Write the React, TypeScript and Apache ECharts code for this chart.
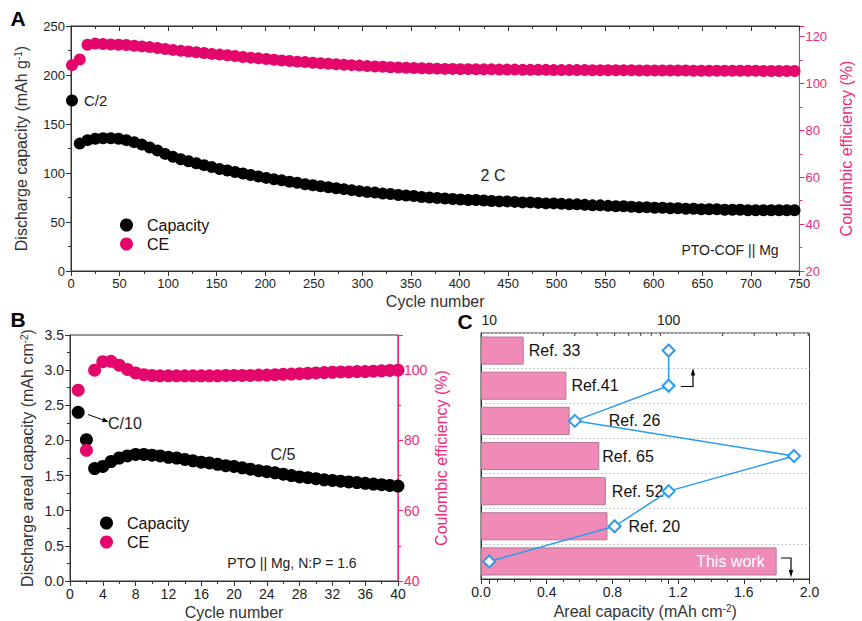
import React, { useEffect, useRef } from 'react';
import * as echarts from 'echarts';

// ---------- Panel A: PTO-COF || Mg, sampled every 8 cycles starting at cycle 1 ----------
const aCapacity = [
  174, 130, 133.5, 135, 135.5, 135.5, 135, 133.5, 131.5, 129,
  126, 123, 119.5, 116.5, 114, 112, 110, 108, 106, 104,
  102.5, 101, 99.5, 98, 96.5, 95, 93.5, 92.5, 91, 90,
  88.5, 87.5, 86.5, 85.5, 84.5, 83.5, 82.5, 81.5, 80.5, 80,
  79, 78.5, 77.5, 77, 76.5, 75.5, 75, 74.5, 74, 73.5,
  73, 72.5, 72.5, 72, 71.5, 71, 71, 70.5, 70, 70,
  69.5, 69, 69, 68.5, 68, 68, 67.5, 67, 67, 66.5,
  66, 66, 65.5, 65, 65, 64.5, 64.5, 64, 64, 63.5,
  63.5, 63, 63, 63, 62.5, 62.5, 62.5, 62, 62, 62,
  62, 62, 62, 62,
];
const aCE = [
  107.8, 110.2, 116.5, 117, 116.8, 116.6, 116.5, 116.4, 116.1, 115.8,
  115.5, 115.1, 114.7, 114.3, 113.9, 113.6, 113.3, 113, 112.6, 112.3,
  112, 111.7, 111.3, 111, 110.7, 110.4, 110.1, 109.8, 109.6, 109.3,
  109.1, 108.8, 108.6, 108.4, 108.2, 108, 107.8, 107.6, 107.4, 107.2,
  107.1, 106.9, 106.8, 106.7, 106.6, 106.5, 106.4, 106.3, 106.2, 106.2,
  106.1, 106.1, 106, 106, 106, 105.9, 105.9, 105.9, 105.8, 105.8,
  105.8, 105.8, 105.7, 105.7, 105.7, 105.7, 105.7, 105.6, 105.6, 105.6,
  105.6, 105.6, 105.6, 105.5, 105.5, 105.5, 105.5, 105.5, 105.5, 105.5,
  105.4, 105.4, 105.4, 105.4, 105.4, 105.4, 105.4, 105.4, 105.4, 105.3,
  105.3, 105.3, 105.3, 105.3,
];
const aCycleStart = 1;
const aCycleStep = 8;

// ---------- Panel B: PTO || Mg, cycles 1..40 ----------
const bCapacity = [
  2.4, 2.01, 1.6, 1.63, 1.7, 1.75, 1.78, 1.8, 1.8, 1.79,
  1.78, 1.76, 1.75, 1.73, 1.71, 1.69, 1.68, 1.66, 1.64, 1.63,
  1.61, 1.59, 1.57, 1.555, 1.54, 1.52, 1.5, 1.48, 1.47, 1.455,
  1.44, 1.43, 1.42, 1.41, 1.4, 1.39, 1.38, 1.37, 1.36, 1.35,
];
const bCE = [
  94.3, 77.2, 100, 102.4, 102.5, 101.4, 100.2, 99.2, 98.7, 98.5,
  98.4, 98.4, 98.4, 98.4, 98.4, 98.4, 98.4, 98.4, 98.5, 98.5,
  98.5, 98.5, 98.6, 98.6, 98.7, 98.8, 98.9, 99, 99.1, 99.2,
  99.3, 99.4, 99.5, 99.5, 99.6, 99.6, 99.7, 99.8, 99.9, 100,
];

// ---------- Panel C: comparison (bottom -> top) ----------
const cRefs = ['This work', 'Ref. 20', 'Ref. 52', 'Ref. 65', 'Ref. 26', 'Ref.41', 'Ref. 33'];
const cArealCapacity = [1.8, 0.77, 0.76, 0.72, 0.54, 0.52, 0.26];
const cTopValues = [10, 50, 100, 500, 30, 100, 100];
const cLogMinorTicks = [20, 30, 40, 50, 60, 70, 80, 90, 200, 300, 400, 500, 600];
const cLabelGap = [12, 21, 6, 3, 39, 5, 5];

const FONT = '"Liberation Sans", Arial, Helvetica, sans-serif';
const INK = '#222';
const PINK = '#e4076b';
const PINK_AXIS = '#f0287c';
const BAR = '#f08ab6';
const BAR_BORDER = '#b67a96';
const BLUE = '#2b9cf0';

function axisBase(color: string, labelSize: number) {
  return {
    axisLine: { show: true, onZero: false, lineStyle: { color, width: 1 } },
    axisTick: { show: true, length: 5, lineStyle: { color } },
    minorTick: { show: true, splitNumber: 2, length: 3, lineStyle: { color } },
    axisLabel: { color, fontSize: labelSize, margin: 5, fontFamily: FONT },
    splitLine: { show: false },
    nameTextStyle: {
      color,
      fontSize: 16,
      fontFamily: FONT,
      rich: { sup: { fontSize: 10, color, fontFamily: FONT, verticalAlign: 'top', lineHeight: 10 } },
    },
  };
}

function txt(text: string, x: number, y: number, size: number, align = 'left', color = INK, weight = 'normal') {
  return {
    type: 'text',
    x,
    y,
    silent: true,
    style: {
      text,
      fill: color,
      fontSize: size,
      fontFamily: FONT,
      fontWeight: weight,
      align,
      textAlign: align,
      verticalAlign: 'middle',
      textVerticalAlign: 'middle',
    },
  };
}

export default function App() {
  const ref = useRef<HTMLDivElement>(null);

  useEffect(() => {
    document.body.style.margin = '0';
    if (!ref.current) return;
    const chart = echarts.init(ref.current, undefined, { renderer: 'svg' });

    const aCap = aCapacity.map((v, i) => [aCycleStart + aCycleStep * i, v]);
    const aEff = aCE.map((v, i) => [aCycleStart + aCycleStep * i, v]);
    const bCap = bCapacity.map((v, i) => [i + 1, v]);
    const bEff = bCE.map((v, i) => [i + 1, v]);

    const barData = cArealCapacity.map((v, i) => {
      const inside = i === 0;
      return {
        value: v,
        label: inside
          ? { show: true, position: 'insideRight', distance: cLabelGap[i], color: '#fff', formatter: cRefs[i] }
          : { show: true, position: 'right', distance: cLabelGap[i], color: '#111', formatter: cRefs[i] },
      };
    });

    const option: any = {
      animation: false,
      textStyle: { fontFamily: FONT },
      grid: [
        { left: 71, top: 26, width: 739, height: 245, show: true, borderColor: '#333', borderWidth: 1, backgroundColor: 'transparent' },
        { left: 70, top: 335, width: 328, height: 246, show: true, borderColor: '#333', borderWidth: 1, backgroundColor: 'transparent' },
        { left: 481, top: 333, width: 328.5, height: 246, show: true, borderColor: '#333', borderWidth: 1, backgroundColor: 'transparent' },
      ],
      legend: [
        {
          data: ['Capacity', 'CE'], orient: 'vertical', left: 115, top: 212, itemWidth: 13, itemHeight: 13, itemGap: 3,
          icon: 'circle', selectedMode: false,
          textStyle: { fontSize: 16, color: '#111', fontFamily: FONT, padding: [0, 0, 0, 9] },
        },
        {
          data: ['Capacity', 'CE'], orient: 'vertical', left: 95, top: 510, itemWidth: 13, itemHeight: 13, itemGap: 3,
          icon: 'circle', selectedMode: false,
          textStyle: { fontSize: 16, color: '#111', fontFamily: FONT, padding: [0, 0, 0, 9] },
        },
      ],
      xAxis: [
        {
          ...axisBase('#333', 13), gridIndex: 0, type: 'value', min: 0, max: 750, interval: 50,
          name: 'Cycle number', nameLocation: 'middle', nameGap: 22,
          axisLabel: { color: INK, fontSize: 13, margin: 6, fontFamily: FONT },
        },
        {
          ...axisBase('#333', 13), gridIndex: 0, type: 'value', position: 'top', min: 0, max: 750, interval: 50,
          axisTick: { show: true, inside: true, length: 5, lineStyle: { color: '#333' } },
          minorTick: { show: true, splitNumber: 2, length: 3, lineStyle: { color: '#333' } },
          axisLabel: { show: false },
        },
        {
          ...axisBase('#333', 14), gridIndex: 1, type: 'value', min: 0, max: 40, interval: 4,
          name: 'Cycle number', nameLocation: 'middle', nameGap: 23,
          axisLabel: { color: INK, fontSize: 14, margin: 6, fontFamily: FONT },
        },
        {
          gridIndex: 1, type: 'value', position: 'top', min: 0, max: 40,
          axisLine: { show: true, lineStyle: { color: '#333' } }, axisTick: { show: false }, axisLabel: { show: false }, splitLine: { show: false },
        },
        {
          ...axisBase('#333', 14), gridIndex: 2, type: 'value', min: 0, max: 2, interval: 0.4,
          minorTick: { show: true, splitNumber: 4, length: 3, lineStyle: { color: '#333' } },
          name: 'Areal capacity (mAh cm{sup|-2})', nameLocation: 'middle', nameGap: 24,
          axisLabel: { color: INK, fontSize: 14, margin: 6, fontFamily: FONT, formatter: (v: number) => v.toFixed(1) },
        },
        {
          gridIndex: 2, type: 'log', logBase: 10, position: 'top', min: 9, max: 610,
          axisLine: { show: true, lineStyle: { color: '#333' } },
          axisTick: { show: true, inside: true, length: 5, lineStyle: { color: '#333' } },
          splitLine: { show: false },
          axisLabel: {
            color: INK, fontSize: 14, margin: 6, fontFamily: FONT,
            formatter: (v: number) => { const r = Math.round(v); return r === 10 || r === 100 ? String(r) : ''; },
          },
        },
      ],
      yAxis: [
        {
          ...axisBase('#333', 13), gridIndex: 0, type: 'value', min: 0, max: 250, interval: 50,
          name: 'Discharge capacity (mAh g{sup|-1})', nameLocation: 'middle', nameGap: 42,
          axisLabel: { color: INK, fontSize: 13, margin: 6, fontFamily: FONT },
        },
        {
          ...axisBase(PINK_AXIS, 13), gridIndex: 0, type: 'value', position: 'right', min: 20, max: 124.5, interval: 20,
          name: 'Coulombic efficiency (%)', nameLocation: 'middle', nameGap: 35,
          axisLabel: {
            color: PINK_AXIS, fontSize: 13, margin: 6, fontFamily: FONT,
            formatter: (v: number) => (Math.abs(v % 20) < 1e-6 ? String(v) : ''),
          },
        },
        {
          ...axisBase('#333', 14), gridIndex: 1, type: 'value', min: 0, max: 3.5, interval: 0.5,
          name: 'Discharge areal capacity (mAh cm{sup|-2})', nameLocation: 'middle', nameGap: 35,
          axisLabel: { color: INK, fontSize: 14, margin: 6, fontFamily: FONT, formatter: (v: number) => v.toFixed(1) },
        },
        {
          ...axisBase(PINK_AXIS, 14), gridIndex: 1, type: 'value', position: 'right', min: 40, max: 110, interval: 20,
          name: 'Coulombic efficiency (%)', nameLocation: 'middle', nameGap: 35,
          axisLabel: {
            color: PINK_AXIS, fontSize: 14, margin: 6, fontFamily: FONT,
            formatter: (v: number) => (Math.abs(v % 20) < 1e-6 ? String(v) : ''),
          },
        },
        {
          gridIndex: 2, type: 'category', data: cRefs,
          axisLine: { show: true, lineStyle: { color: '#333' } },
          axisTick: { show: false }, axisLabel: { show: false },
          splitLine: { show: true, lineStyle: { color: '#cfcfcf', type: [2, 2], width: 1 } },
        },
        { gridIndex: 2, type: 'value', min: 0, max: 1, show: false },
      ],
      series: [
        {
          name: 'Capacity', type: 'scatter', xAxisIndex: 0, yAxisIndex: 0, data: aCap,
          symbol: 'circle', symbolSize: 12, itemStyle: { color: '#000', opacity: 1 },
        },
        {
          name: 'CE', type: 'scatter', xAxisIndex: 0, yAxisIndex: 1, data: aEff,
          symbol: 'circle', symbolSize: 12, itemStyle: { color: PINK, opacity: 1 },
        },
        {
          name: 'Capacity', type: 'scatter', xAxisIndex: 2, yAxisIndex: 2, data: bCap,
          symbol: 'circle', symbolSize: 13, itemStyle: { color: '#000', opacity: 1 },
        },
        {
          name: 'CE', type: 'scatter', xAxisIndex: 2, yAxisIndex: 3, data: bEff,
          symbol: 'circle', symbolSize: 13, itemStyle: { color: PINK, opacity: 1 },
        },
        {
          name: 'Areal capacity', type: 'bar', xAxisIndex: 4, yAxisIndex: 4, data: barData,
          barCategoryGap: '20%',
          itemStyle: { color: BAR, borderColor: BAR_BORDER, borderWidth: 1 },
          label: { show: true, fontSize: 16, fontFamily: FONT },
          z: 2,
        },
        {
          name: 'Top value', type: 'line', xAxisIndex: 5, yAxisIndex: 4,
          data: cRefs.map((r, i) => [cTopValues[i], r]),
          symbol: 'diamond', symbolSize: 12,
          itemStyle: { color: '#fff', borderColor: BLUE, borderWidth: 2 },
          lineStyle: { color: BLUE, width: 1.5 },
          z: 4,
        },
        {
          name: 'log minor ticks', type: 'scatter', xAxisIndex: 5, yAxisIndex: 5,
          data: cLogMinorTicks.map((v) => [v, 1]),
          symbol: 'rect', symbolSize: [1, 3], symbolOffset: [0, 1.5],
          itemStyle: { color: '#333', opacity: 1 }, silent: true, z: 5,
        },
      ],
      graphic: [
        txt('A', 18, 18, 21, 'center', '#000', 'bold'),
        txt('B', 18, 319, 21, 'center', '#000', 'bold'),
        txt('C', 465, 321, 21, 'center', '#000', 'bold'),
        txt('C/2', 84, 100, 15),
        txt('2 C', 493, 175, 16, 'center'),
        txt('PTO-COF || Mg', 730, 250, 14, 'center'),
        txt('C/10', 108, 423, 16),
        txt('C/5', 283, 454, 16, 'center'),
        txt('PTO || Mg, N:P = 1.6', 292, 563, 14, 'center'),
        { type: 'line', silent: true, shape: { x1: 88, y1: 414.5, x2: 104, y2: 420.3 }, style: { stroke: '#000', lineWidth: 1 } },
        { type: 'polygon', silent: true, shape: { points: [[108.5, 421.8], [103.6, 417.4], [102, 422.2]] }, style: { fill: '#000' } },
        { type: 'polyline', silent: true, shape: { points: [[681, 386.5], [693, 386.5], [693, 374]] }, style: { stroke: '#000', lineWidth: 1.2, fill: null } },
        { type: 'polygon', silent: true, shape: { points: [[693, 368], [690.8, 375.5], [695.2, 375.5]] }, style: { fill: '#000' } },
        { type: 'polyline', silent: true, shape: { points: [[781, 558], [791, 558], [791, 571]] }, style: { stroke: '#000', lineWidth: 1.2, fill: null } },
        { type: 'polygon', silent: true, shape: { points: [[791, 577.5], [788.8, 570], [793.2, 570]] }, style: { fill: '#000' } },
      ],
    };

    chart.setOption(option);
    return () => chart.dispose();
  }, []);

  return <div ref={ref} style={{ position: 'absolute', left: 0, top: 0, width: 862, height: 621 }} />;
}
